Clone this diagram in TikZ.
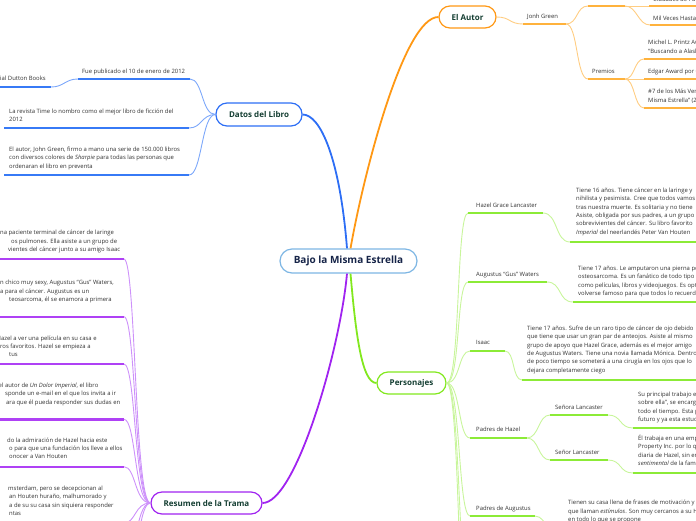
\documentclass[tikz,border=0pt]{standalone}
\usepackage{fontspec}
\setmainfont{Open Sans}
\definecolor{cblue}{RGB}{45,110,245}
\definecolor{cbluel}{RGB}{125,168,250}
\definecolor{cblueu}{RGB}{55,122,246}
\definecolor{corg}{RGB}{255,152,20}
\definecolor{corgl}{RGB}{255,205,130}
\definecolor{corgu}{RGB}{255,178,60}
\definecolor{cgrn}{RGB}{130,232,30}
\definecolor{cgrnl}{RGB}{200,245,155}
\definecolor{cgrnu}{RGB}{140,235,55}
\definecolor{cpur}{RGB}{160,35,240}
\definecolor{cpurl}{RGB}{205,145,250}
\definecolor{cpuru}{RGB}{175,65,245}
\definecolor{cbox}{RGB}{20,62,50}
\definecolor{cnavy}{RGB}{22,36,72}
\definecolor{ccen}{RGB}{125,182,228}
\definecolor{ctxt}{RGB}{50,50,50}
\newcommand\mmpara[4]{%
  \foreach \ln [count=\i] in {#4}{\node[txt] (#1\i) at (#2,{#3+(\i-1)*8.35}) {\ln};}}
\begin{document}
\begin{tikzpicture}[x=1pt,y=-1pt,
  txt/.style={font=\fontsize{5.9}{8.3}\selectfont, text=ctxt, inner sep=0, anchor=base west},
  mainbox/.style={draw, fill=white, rounded corners=11pt, line width=1.2pt,
    font=\fontsize{8}{9}\selectfont\bfseries, text=cbox, inner sep=0, minimum height=22pt},
  ul/.style={line width=2.4pt},
  conn/.style={line width=0.9pt},
  branch/.style={line width=1.8pt}]
\useasboundingbox (0,0) rectangle (696,520);
\clip (0,0) rectangle (696,520);

% ---------- boxes ----------
\node[draw=ccen, fill=white, rounded corners=12pt, line width=1.2pt, inner sep=0,
  minimum width=137pt, minimum height=24pt, font=\fontsize{10}{12}\selectfont\bfseries,
  text=cnavy] (c) at (348.5,261) {Bajo la Misma Estrella};
\node[mainbox, draw=cblue, minimum width=86pt, minimum height=23pt] (datos) at (259,114.5) {Datos del Libro};
\node[mainbox, draw=corg, minimum width=57pt] (autor) at (467.5,17) {El Autor};
\node[mainbox, draw=cgrn, minimum width=69pt] (pers) at (411.5,383) {Personajes};
\node[mainbox, draw=cpur, minimum width=111pt] (res) at (206.5,503) {Resumen de la Trama};

% ---------- main branches ----------
\draw[branch, cblue] ([xshift=-1.5pt]c.north) .. controls +(-7,-89) and +(18,0) .. (datos.east);
\draw[branch, corg] ([xshift=2pt]c.north) .. controls +(14,-79) and +(-34,0) .. (autor.west);
\draw[branch, cpur] ([xshift=-1.5pt]c.south) .. controls +(-7,77) and +(33,0) .. (res.east);
\draw[branch, cgrn] ([xshift=2pt]c.south) .. controls +(5,57) and +(-15,0) .. (pers.west);

% ---------- Datos del Libro ----------
\coordinate (fue-l) at (78,79);  \coordinate (fue-r) at (190,79);
\coordinate (dut-l) at (-5,87);  \coordinate (dut-r) at (51,87);
\coordinate (time-l) at (4,128); \coordinate (time-r) at (189,128);
\coordinate (sha-l) at (4,175);  \coordinate (sha-r) at (189,175);
\draw[conn, cbluel] (datos.west) .. controls +(-14,0) and +(13,0) .. (fue-r);
\draw[conn, cbluel] (datos.west) .. controls +(-14,0) and +(13,0) .. (time-r);
\draw[conn, cbluel] (datos.west) .. controls +(-14,0) and +(13,0) .. (sha-r);
\draw[conn, cbluel] (fue-l) .. controls +(-13,0) and +(13,0) .. (dut-r);
\foreach \a in {fue,dut,time,sha}{\draw[ul, cblueu] (\a-l) -- (\a-r);}
\node[txt] (t-fue) at (82,73.2) {Fue publicado el 10 de enero de 2012};
\node[txt] (t-dut) at (0,80.2) {ial Dutton Books};
\mmpara{t-time}{9}{113.2}{{La revista Time lo nombro como el mejor libro de ficción del},{2012}}
\mmpara{t-sha}{9}{151.5}{{El autor, John Green, firmo a mano una serie de 150.000 libros},{con diversos colores de \textit{Sharpie} para todas las personas que},{ordenaran el libro en preventa}}

% ---------- El Autor ----------
\coordinate (jg-l) at (523,24);  \coordinate (jg-r) at (566,24);
\coordinate (lib-l) at (588,6);  \coordinate (lib-r) at (625,6);
\coordinate (pre-l) at (588,79); \coordinate (pre-r) at (625,79);
\coordinate (ciu-l) at (649,6);  \coordinate (ciu-r) at (700,6);
\coordinate (mil-l) at (650,25); \coordinate (mil-r) at (700,25);
\coordinate (mic-l) at (644,59); \coordinate (mic-r) at (700,59);
\coordinate (edg-l) at (644,79); \coordinate (edg-r) at (700,79);
\coordinate (num-l) at (644,108);\coordinate (num-r) at (700,108);
\draw[conn, corgl] (autor.east) .. controls +(14,0) and +(-14,0) .. (jg-l);
\draw[conn, corgl] (jg-r) .. controls +(12,0) and +(-12,0) .. (lib-l);
\draw[conn, corgl] (jg-r) .. controls +(12,0) and +(-12,0) .. (pre-l);
\draw[conn, corgl] (lib-r) -- (ciu-l);
\draw[conn, corgl] (lib-r) .. controls +(12,0) and +(-12,0) .. (mil-l);
\draw[conn, corgl] (pre-r) .. controls +(10,0) and +(-10,0) .. (mic-l);
\draw[conn, corgl] (pre-r) -- (edg-l);
\draw[conn, corgl] (pre-r) .. controls +(10,0) and +(-10,0) .. (num-l);
\foreach \a in {jg,lib,pre,ciu,mil,mic,edg,num}{\draw[ul, corgu] (\a-l) -- (\a-r);}
\node[txt] (t-jg) at (527,18.5) {Jonh Green};
\node[txt] (t-ciu) at (653,1.3) {Ciudades de Papel};
\node[txt] (t-mil) at (653,20.5) {Mil Veces Hasta Siempre};
\node[txt] (t-pre) at (592,73.5) {Premios};
\mmpara{t-mic}{648}{44.8}{{Michel L. Printz Award por},{“Buscando a Alaska”}}
\node[txt] (t-edg) at (648,73.2) {Edgar Award por Ciudades de Papel};
\mmpara{t-num}{648}{93.8}{{\#7 de los Más Vendidos por “Bajo la},{Misma Estrella” (2012)}}

% ---------- Personajes ----------
\coordinate (hz-l) at (468,213);  \coordinate (hz-r) at (543,213);
\coordinate (hzp-l) at (570,242); \coordinate (hzp-r) at (700,242);
\coordinate (gu-l) at (468,282);  \coordinate (gu-r) at (547,282);
\coordinate (gup-l) at (573,302); \coordinate (gup-r) at (700,302);
\coordinate (is-l) at (470,351);  \coordinate (is-r) at (505,351);
\coordinate (isp-l) at (522,380); \coordinate (isp-r) at (700,380);
\coordinate (ph-l) at (470,438);  \coordinate (ph-r) at (527,438);
\coordinate (sa-l) at (550,415);  \coordinate (sa-r) at (608,415);
\coordinate (sap-l) at (633,428); \coordinate (sap-r) at (700,428);
\coordinate (so-l) at (550,460);  \coordinate (so-r) at (608,460);
\coordinate (sop-l) at (633,473); \coordinate (sop-r) at (700,473);
\coordinate (pa-l) at (470,516);  \coordinate (pa-r) at (535,516);
\coordinate (pap-l) at (562,546); \coordinate (pap-r) at (700,546);
\coordinate (ex1-l) at (470,600); \coordinate (ex2-l) at (470,680);
\foreach \a in {hz,gu,is,ph,pa,ex1,ex2}{%
  \draw[conn, cgrnl] (pers.east) .. controls +(14,0) and +(-12,0) .. (\a-l);}
\draw[conn, cgrnl] (hz-r) .. controls +(15,0) and +(-15,0) .. (hzp-l);
\draw[conn, cgrnl] (gu-r) .. controls +(15,0) and +(-15,0) .. (gup-l);
\draw[conn, cgrnl] (is-r) .. controls +(10,0) and +(-10,0) .. (isp-l);
\draw[conn, cgrnl] (ph-r) .. controls +(12,0) and +(-12,0) .. (sa-l);
\draw[conn, cgrnl] (ph-r) .. controls +(12,0) and +(-12,0) .. (so-l);
\draw[conn, cgrnl] (sa-r) .. controls +(14,0) and +(-14,0) .. (sap-l);
\draw[conn, cgrnl] (so-r) .. controls +(14,0) and +(-14,0) .. (sop-l);
\draw[conn, cgrnl] (pa-r) .. controls +(14,0) and +(-14,0) .. (pap-l);
\foreach \a in {hz,hzp,gu,gup,is,isp,ph,sa,sap,so,sop,pa,pap}{\draw[ul, cgrnu] (\a-l) -- (\a-r);}
\node[txt] (t-hz) at (476,207.2) {Hazel Grace Lancaster};
\node[txt] (t-gu) at (476,276.5) {Augustus “Gus” Waters};
\node[txt] (t-is) at (476,344.8) {Isaac};
\node[txt] (t-ph) at (476,431.5) {Padres de Hazel};
\node[txt] (t-sa) at (555,409.2) {Señora Lancaster};
\node[txt] (t-so) at (555,454.2) {Señor Lancaster};
\node[txt] (t-pa) at (476,510.5) {Padres de Augustus};
\mmpara{t-hzp}{576}{192.5}{{Tiene 16 años. Tiene cáncer en la laringe y},{nihilista y pesimista. Cree que todos vamos},{tras nuestra muerte. Es solitaria y no tiene},{Asiste, obligada por sus padres, a un grupo},{sobrevivientes del cáncer. Su libro favorito},{\textit{Imperial} del neerlandés Peter Van Houten}}
\mmpara{t-gup}{578}{270.5}{{Tiene 17 años. Le amputaron una pierna por},{osteosarcoma. Es un fanático de todo tipo},{como películas, libros y videojuegos. Es optimista},{volverse famoso para que todos lo recuerden}}
\mmpara{t-isp}{527}{330.5}{{Tiene 17 años. Sufre de un raro tipo de cáncer de ojo debido},{que tiene que usar un gran par de anteojos. Asiste al mismo},{grupo de apoyo que Hazel Grace, además es el mejor amigo},{de Augustus Waters. Tiene una novia llamada Mónica. Dentro},{de poco tiempo se someterá a una cirugía en los ojos que lo},{dejara completamente ciego}}
\mmpara{t-sap}{638}{396.4}{{Su principal trabajo es},{sobre ella”, se encarga},{todo el tiempo. Esta pendiente},{futuro y ya esta estudiando}}
\mmpara{t-sop}{638}{440.5}{{Él trabaja en una empresa},{Property Inc. por lo que},{diaria de Hazel, sin embargo},{\textit{sentimental} de la familia}}
\mmpara{t-pap}{568}{504.8}{{Tienen su casa llena de frases de motivación y},{que llaman \textit{estímulos}. Son muy cercanos a su Hijo},{en todo lo que se propone}}

% ---------- Resumen de la Trama ----------
\foreach \n/\y in {r1/259,r2/316.7,r3/364,r4/419.3,r5/466.7,r6/523,r7/570,r8/620}{%
  \coordinate (\n-l) at (-5,\y); \coordinate (\n-r) at (124,\y);}
\foreach \n in {r1,r2,r3,r4,r5,r6,r7,r8}{%
  \draw[conn, cpurl] (res.west) .. controls +(-16,0) and +(12,0) .. (\n-r);
  \draw[ul, cpuru] (\n-l) -- (\n-r);}
\node[txt] (p1a) at (0,234.8) {na paciente terminal de cáncer de laringe};
\node[txt] (p1b) at (11,243.2) {os pulmones. Ella asiste a un grupo de};
\node[txt] (p1c) at (8,251.8) {vientes del cáncer junto a su amigo Isaac};
\node[txt] (p2a) at (0,284.8) {n chico muy sexy, Augustus “Gus” Waters,};
\node[txt] (p2b) at (0,293.2) {a para el cáncer. Augustus es un};
\node[txt] (p2c) at (9,301.5) {teosarcoma, él se enamora a primera};
\node[txt] (p3a) at (-3.5,340.5) {Hazel a ver una película en su casa e};
\node[txt] (p3b) at (0,348.7) {ros favoritos. Hazel se empieza a};
\node[txt] (p3c) at (9,356.5) {tus};
\node[txt] (p4a) at (-1.5,387.2) {el autor de \textit{Un Dolor Imperial}, el libro};
\node[txt] (p4b) at (5,395.8) {sponde un e-mail en el que los invita a ir};
\node[txt] (p4c) at (6,404.2) {ara que él pueda responder sus dudas en};
\node[txt] (p5a) at (7,442.2) {do la admiración de Hazel hacia este};
\node[txt] (p5b) at (9,450.5) {o para que una fundación los lleve a ellos};
\node[txt] (p5c) at (9,458.8) {onocer a Van Houten};
\node[txt] (p6a) at (8,490.5) {msterdam, pero se decepcionan al};
\node[txt] (p6b) at (9,498.8) {an Houten huraño, malhumorado y};
\node[txt] (p6c) at (9,507.2) {a de su su casa sin siquiera responder};
\node[txt] (p6d) at (9,515.5) {ntas};
\end{tikzpicture}
\end{document}
